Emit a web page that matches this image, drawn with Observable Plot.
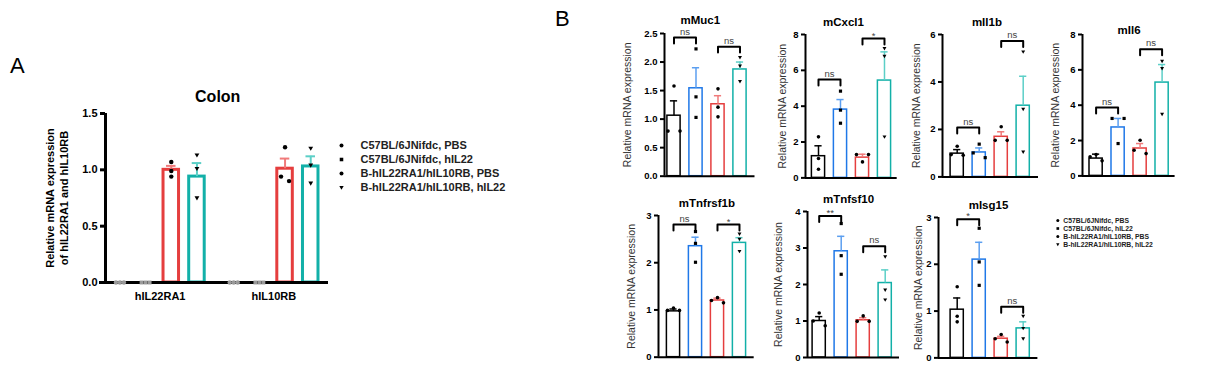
<!DOCTYPE html>
<html><head><meta charset="utf-8">
<script src="https://cdn.jsdelivr.net/npm/d3@7"></script>
<script src="https://cdn.jsdelivr.net/npm/@observablehq/plot@0.6"></script>
<style>
body{margin:0;background:#fff;}
#root{position:relative;width:1206px;height:366px;overflow:hidden;font-family:Arial,"Liberation Sans",sans-serif;background:#fff;}
#root > .p{position:absolute;}
.letter{position:absolute;font-size:22px;line-height:1;color:#000;font-family:Arial,"Liberation Sans",sans-serif;}
</style></head><body><div id="root"></div>
<script>
// ---------------- DATA ----------------
const groups = ["C57BL/6JNifdc, PBS", "C57BL/6JNifdc, hIL22", "B-hIL22RA1/hIL10RB, PBS", "B-hIL22RA1/hIL10RB, hIL22"];

// Panel A (Colon)
const colonTitle = "Colon";
const colonYLabel = "Relative mRNA expression\nof hIL22RA1 and hIL10RB";
const colonGenes = ["hIL22RA1", "hIL10RB"];
const colonTicks = [0, 0.5, 1, 1.5];
const colonMean = [[0, 0, 1.00, 0.94], [0, 0, 1.01, 1.03]];
const colonErrTop = [[0, 0, 1.035, 1.06], [0, 0, 1.10, 1.12]];
const colonPoints = [
  [[0, 0, 0], [0, 0, 0], [1.07, 0.99, 0.94], [1.13, 1.01, 0.75]],
  [[0, 0, 0], [0, 0, 0], [1.20, 0.94, 0.90], [1.19, 1.04, 0.88]]
];

// Panel B
const yLabelB = "Relative mRNA expression";
const genesB = ["mMuc1", "mCxcl1", "mIl1b", "mIl6", "mTnfrsf1b", "mTnfsf10", "mIsg15"];
const yTicksB = [[0, 0.5, 1, 1.5, 2, 2.5], [0, 2, 4, 6, 8], [0, 2, 4, 6], [0, 2, 4, 6, 8], [0, 1, 2, 3], [0, 1, 2, 3, 4], [0, 1, 2, 3]];
const meanB = [
  [1.06, 1.54, 1.26, 1.87],
  [1.21, 3.81, 1.13, 5.43],
  [0.98, 1.03, 1.69, 3.00],
  [0.98, 2.74, 1.55, 5.28],
  [0.97, 2.35, 1.20, 2.42],
  [1.00, 2.91, 1.02, 2.04],
  [1.03, 2.10, 0.41, 0.63]
];
const errTopB = [
  [1.32, 1.90, 1.41, 2.00],
  [1.79, 4.37, 1.32, 7.03],
  [1.15, 1.22, 1.90, 4.24],
  [1.23, 3.25, 1.83, 6.30],
  [1.02, 2.54, 1.25, 2.53],
  [1.12, 3.32, 1.09, 2.40],
  [1.28, 2.47, 0.46, 0.77]
];
const pointsB = [
  [[1.58, 0.79, 0.79], [2.23, 1.39, 1.03], [1.53, 1.21, 1.04], [2.08, 1.93, 1.66]],
  [[2.29, 1.08, 0.48], [4.84, 3.78, 3.05], [1.30, 1.30, 0.89], [7.22, 6.79, 2.29]],
  [[1.29, 0.94, 0.91], [1.38, 1.01, 0.81], [2.11, 1.54, 1.54], [5.27, 2.85, 1.05]],
  [[1.21, 1.08, 0.85], [3.25, 3.25, 1.83], [2.02, 1.45, 1.26], [6.49, 6.08, 3.49]],
  [[1.04, 0.99, 0.99], [2.66, 2.41, 2.01], [1.26, 1.20, 1.15], [2.61, 2.50, 2.24]],
  [[1.22, 1.00, 0.87], [3.67, 2.79, 2.28], [1.14, 0.99, 0.99], [2.76, 1.85, 1.58]],
  [[1.52, 0.89, 0.77], [2.77, 2.05, 1.55], [0.50, 0.41, 0.34], [0.89, 0.63, 0.41]]
];
// significance brackets: [group 0 vs 1, group 2 vs 3]
const bracketLabelB = [["ns", "ns"], ["ns", "*"], ["ns", "ns"], ["ns", "ns"], ["ns", "*"], ["**", "ns"], ["*", "ns"]];
const bracketTopB = [[2.43, 2.27], [5.49, 7.77], [2.08, 5.73], [3.87, 7.17], [2.81, 2.81], [3.88, 3.05], [2.96, 1.09]];

// ---------------- STYLE / LAYOUT ----------------
const groupColors = ["#000000", "#1f78e8", "#e53e3e", "#12b0a8"];
const errColors = ["#000000", "#5c9ff0", "#f07a7a", "#5ccfc7"];
const triangleDown = {draw(ctx, size) {const s = Math.sqrt(size); ctx.moveTo(-0.62 * s, -0.45 * s); ctx.lineTo(0.62 * s, -0.45 * s); ctx.lineTo(0, 0.62 * s); ctx.closePath();}};
const symbols = ["circle", "square", "circle", triangleDown];
const FONT = "Arial, 'Liberation Sans', sans-serif";
const baseStyle = {background: "transparent", overflow: "visible", fontFamily: FONT, fontWeight: "bold", color: "black"};

const layoutB = [
  {axisX: 663.5, top: 33.3, bottom: 176, end: 754, fmt: ".1f", firstBar: 9.5, titleX: 699.3, titleY: 20, labelX: 626.7},
  {axisX: 805, top: 34.3, bottom: 177.7, end: 896.7, fmt: "d", firstBar: 13, titleX: 843, titleY: 21.7, labelX: 781.7},
  {axisX: 942.3, top: 34.3, bottom: 176.7, end: 1038.3, fmt: "d", firstBar: 14.7, titleX: 986.7, titleY: 21.7, labelX: 916.7},
  {axisX: 1081.7, top: 34.3, bottom: 175.7, end: 1174.3, fmt: "d", firstBar: 13.6, titleX: 1128.3, titleY: 30, labelX: 1055},
  {axisX: 658.3, top: 215, bottom: 356.7, end: 754, fmt: "d", firstBar: 15, titleX: 706.7, titleY: 203.3, labelX: 631.7},
  {axisX: 807.3, top: 210.7, bottom: 356.7, end: 899.3, fmt: "d", firstBar: 11.7, titleX: 848.3, titleY: 198.3, labelX: 778.3},
  {axisX: 938.3, top: 217.3, bottom: 357.7, end: 1037.7, fmt: "d", firstBar: 18.7, titleX: 988.3, titleY: 205, labelX: 918.3}
];

const root = document.getElementById("root");
function place(node, left, top) {
  const d = document.createElement("div");
  d.className = "p"; d.style.left = left + "px"; d.style.top = top + "px";
  d.appendChild(node); root.appendChild(d);
}
function letter(t, left, top) {
  const d = document.createElement("div"); d.className = "letter"; d.textContent = t;
  d.style.left = left + "px"; d.style.top = top + "px"; root.appendChild(d);
}
// horizontal slot (-1,0,1) for replicate points that would overlap
function slots(vals, tol) {
  const idx = vals.map((v, i) => i).sort((a, b) => vals[b] - vals[a]);
  const clusters = []; let cur = [idx[0]];
  for (let k = 1; k < idx.length; k++) {
    if (vals[cur[cur.length - 1]] - vals[idx[k]] < tol) cur.push(idx[k]);
    else {clusters.push(cur); cur = [idx[k]];}
  }
  clusters.push(cur);
  const s = vals.map(() => 0);
  for (const c of clusters) {
    if (c.length === 2) {s[c[0]] = -1; s[c[1]] = 1;}
    else if (c.length >= 3) {s[c[0]] = 0; s[c[1]] = -1; s[c[2]] = 1;}
  }
  return s;
}

letter("A", 10, 54.5);
letter("B", 555, 7.5);

// ---------------- PANEL A ----------------
{
  const W = 345, H = 310, mL = 105, mR = 17, mT = 113, mB = 28;
  const pxU = (H - mT - mB) / 1.5;
  const fxPad = 0.04, xPi = 0.396, xPo = 0.325, xAl = 0.4;
  // where the first bar of the first facet sits, to hang the y-axis line at the frame edge
  const fxS = d3.scaleBand().domain(colonGenes).range([mL, W - mR]).paddingInner(fxPad).paddingOuter(0);
  const xS = d3.scaleBand().domain(groups).range([0, fxS.bandwidth()]).paddingInner(xPi).paddingOuter(xPo).align(xAl);
  const firstCenter = (fxS(colonGenes[0]) - mL) + xS(groups[0]) + xS.bandwidth() / 2;

  const bars = [], pts = [];
  colonGenes.forEach((gene, k) => groups.forEach((g, i) => {
    bars.push({gene, group: g, gi: i, mean: colonMean[k][i], err: colonErrTop[k][i]});
    const sl = slots(colonPoints[k][i], 5 / pxU);
    colonPoints[k][i].forEach((v, j) => pts.push({gene, group: g, gi: i, value: v, slot: sl[j]}));
  }));
  const marks = [];
  groups.forEach((g, i) => {
    const b = bars.filter(d => d.gi === i && d.mean > 0);
    marks.push(Plot.barY(b, {fx: "gene", x: "group", y: "mean", fill: "none", stroke: groupColors[i], strokeWidth: 3}));
    marks.push(Plot.ruleX(b, {fx: "gene", x: "group", y1: "mean", y2: "err", stroke: errColors[i], strokeWidth: 2}));
    marks.push(Plot.tickY(b, {fx: "gene", x: "group", y: "err", stroke: errColors[i], strokeWidth: 2, insetLeft: 3, insetRight: 3}));
  });
  marks.push(Plot.ruleY([0], {strokeWidth: 3, insetLeft: -6}));
  marks.push(Plot.ruleX([groups[0]], {fx: () => colonGenes[0], x: d => d, y1: 0, y2: 1.5, dx: -firstCenter, strokeWidth: 3}));
  groups.forEach((g, i) => {
    [-1, 0, 1].forEach(s => {
      const p = pts.filter(d => d.gi === i && d.slot === s);
      marks.push(Plot.dot(p, {fx: "gene", x: "group", y: "value", symbol: symbols[i], r: 2.2, dx: s * 4,
        fill: d => d.value === 0 ? "#9a9a9a" : "black"}));
    });
  });
  marks.push(Plot.axisY({ticks: colonTicks, tickFormat: ".1f", tickSize: 5, tickPadding: 3, strokeWidth: 3, label: null, fontSize: 11}));
  marks.push(Plot.axisFx({anchor: "bottom", tickSize: 0, tickPadding: 10, label: null, fontSize: 11}));
  marks.push(Plot.text([colonTitle], {fx: () => colonGenes[0], frameAnchor: "top-right", textAnchor: "middle", lineAnchor: "middle", dx: 3, dy: -17, fontSize: 16, text: d => d}));
  marks.push(Plot.text([colonYLabel], {fx: () => colonGenes[0], frameAnchor: "left", textAnchor: "middle", lineAnchor: "middle", dx: -49, rotate: -90, fontSize: 11, lineHeight: 1.25, text: d => d}));
  const chart = Plot.plot({
    width: W, height: H, marginLeft: mL, marginRight: mR, marginTop: mT, marginBottom: mB,
    style: {...baseStyle, fontSize: "11px"},
    fx: {domain: colonGenes, paddingInner: fxPad, paddingOuter: 0, round: false, label: null},
    x: {domain: groups, paddingInner: xPi, paddingOuter: xPo, align: xAl, round: false, axis: null},
    y: {domain: [0, 1.5]},
    marks
  });
  place(chart, 0, 0);

  // legend A
  const lg = [];
  groups.forEach((g, i) => {
    lg.push(Plot.dot([g], {y: d => d, frameAnchor: "left", symbol: symbols[i], r: 2, fill: "black"}));
  });
  lg.push(Plot.text(groups, {y: d => d, text: d => d, frameAnchor: "left", dx: 19, textAnchor: "start", fontSize: 11, fill: "#222"}));
  place(Plot.plot({width: 200, height: 90, marginLeft: 16, marginRight: 0, marginTop: 0, marginBottom: 0,
    style: baseStyle, y: {type: "point", domain: groups, range: [17, 74.3], axis: null}, marks: lg}), 325, 120);
}

// ---------------- PANEL B ----------------
genesB.forEach((gene, gi) => {
  const L = layoutB[gi];
  const mL = 48, mT = 24, mB = 4, mR = 4;
  const frameW = L.end - L.axisX, frameH = L.bottom - L.top;
  const W = mL + frameW + mR, H = mT + frameH + mB;
  const ymax = yTicksB[gi][yTicksB[gi].length - 1];
  const pxU = frameH / ymax;
  const step = 22, pi = 0.4;
  const a = mL + L.firstBar - (1 - pi) * step / 2;
  const bars = groups.map((g, i) => ({group: g, gi: i, mean: meanB[gi][i], err: errTopB[gi][i]}));
  const pts = [];
  groups.forEach((g, i) => {
    const sl = slots(pointsB[gi][i], 5 / pxU);
    pointsB[gi][i].forEach((v, j) => pts.push({group: g, gi: i, value: v, slot: sl[j]}));
  });
  const leg = 6 / pxU;
  const brLines = [], brText = [];
  [[0, 1], [2, 3]].forEach(([p, q], k) => {
    const top = bracketTopB[gi][k];
    brLines.push({id: k, x: groups[p], y: top - leg}, {id: k, x: groups[p], y: top}, {id: k, x: groups[q], y: top}, {id: k, x: groups[q], y: top - leg});
    brText.push({x: groups[p], y: top, label: bracketLabelB[gi][k]});
  });
  const marks = [];
  groups.forEach((g, i) => {
    const b = bars.filter(d => d.gi === i);
    marks.push(Plot.barY(b, {x: "group", y: "mean", fill: "none", stroke: groupColors[i], strokeWidth: 1.5}));
    marks.push(Plot.ruleX(b, {x: "group", y1: "mean", y2: "err", stroke: errColors[i], strokeWidth: 1.5}));
    marks.push(Plot.tickY(b, {x: "group", y: "err", stroke: errColors[i], strokeWidth: 1.5, insetLeft: 3, insetRight: 3}));
  });
  marks.push(Plot.ruleY([0], {strokeWidth: 2}));
  marks.push(Plot.ruleX([groups[0]], {x: d => d, y1: 0, y2: ymax, dx: -L.firstBar, strokeWidth: 2}));
  groups.forEach((g, i) => {
    [-1, 0, 1].forEach(s => {
      const p = pts.filter(d => d.gi === i && d.slot === s);
      marks.push(Plot.dot(p, {x: "group", y: "value", symbol: symbols[i], r: 1.8, dx: s * 6, fill: "black"}));
    });
  });
  marks.push(Plot.line(brLines, {x: "x", y: "y", z: "id", stroke: "black", strokeWidth: 2}));
  marks.push(Plot.text(brText.filter(d => !d.label.includes("*")), {x: "x", y: "y", text: "label", dx: step / 2, dy: -6, fontSize: 9.5, fontWeight: "normal", fill: "#444"}));
  marks.push(Plot.text(brText.filter(d => d.label.includes("*")), {x: "x", y: "y", text: "label", dx: step / 2, dy: -3, fontSize: 9.5, fontWeight: "normal", fill: "#444"}));
  marks.push(Plot.axisY({ticks: yTicksB[gi], tickFormat: L.fmt, tickSize: 4, tickPadding: 3, strokeWidth: 2, label: null, fontSize: 9.5}));
  marks.push(Plot.text([gene], {frameAnchor: "top", textAnchor: "middle", lineAnchor: "middle", dx: L.titleX - (L.axisX + frameW / 2), dy: L.titleY - L.top, fontSize: 11.5, text: d => d}));
  marks.push(Plot.text([yLabelB], {frameAnchor: "left", textAnchor: "middle", lineAnchor: "middle", dx: L.labelX - L.axisX, rotate: -90, fontSize: 10.5, fontWeight: "normal", fill: "#333", text: d => d}));
  const chart = Plot.plot({
    width: W, height: H, marginLeft: mL, marginRight: mR, marginTop: mT, marginBottom: mB,
    style: {...baseStyle, fontSize: "10px"},
    x: {type: "band", domain: groups, range: [a, a + step * (4 - pi)], paddingInner: pi, paddingOuter: 0, round: false, axis: null},
    y: {domain: [0, ymax]},
    marks
  });
  place(chart, L.axisX - mL, L.top - mT);
});

// legend B
{
  const lg = [];
  groups.forEach((g, i) => {
    lg.push(Plot.dot([g], {y: d => d, frameAnchor: "left", symbol: symbols[i], r: 1.5, fill: "black"}));
  });
  lg.push(Plot.text(groups, {y: d => d, text: d => d, frameAnchor: "left", dx: 5.5, textAnchor: "start", fontSize: 6.8, fill: "#222"}));
  place(Plot.plot({width: 160, height: 55, marginLeft: 12.3, marginRight: 0, marginTop: 0, marginBottom: 0,
    style: baseStyle, y: {type: "point", domain: groups, range: [10, 43.3], axis: null}, marks: lg}), 1045, 205);
}
</script></body></html>
